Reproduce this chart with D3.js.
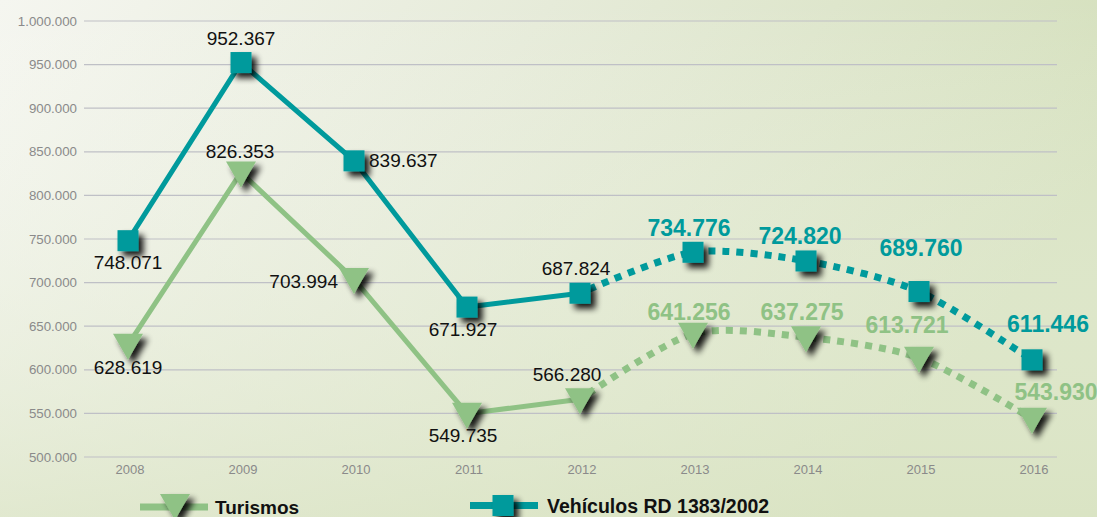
<!DOCTYPE html>
<html>
<head>
<meta charset="utf-8">
<script src="https://cdn.jsdelivr.net/npm/d3@7"></script>
<style>
  body { margin: 0; overflow: hidden; }
  svg { display: block; font-family: "Liberation Sans", Arial, sans-serif; }
</style>
</head>
<body>
<div id="chart"></div>
<script>
// data
var years = ["2008", "2009", "2010", "2011", "2012", "2013", "2014", "2015", "2016"];
var turismos = [628619, 826353, 703994, 549735, 566280, 641256, 637275, 613721, 543930];
var vehiculos = [748071, 952367, 839637, 671927, 687824, 734776, 724820, 689760, 611446];
var yTicks = [500000, 550000, 600000, 650000, 700000, 750000, 800000, 850000, 900000, 950000, 1000000];
var lastReal = 4; // 2012: from here on the line is dotted (forecast)

var W = 1097, H = 517;
var teal = "#009a9c", green = "#8fc285";

var fmt = function(v){ return d3.format(",")(v).replace(/,/g, "."); };

var svg = d3.select("#chart").append("svg")
	.attr("width", W).attr("height", H);

var defs = svg.append("defs");
var bg = defs.append("linearGradient").attr("id", "bg")
	.attr("x1", 0).attr("y1", 0).attr("x2", 1).attr("y2", 0.35);
bg.append("stop").attr("offset", "0%").attr("stop-color", "#f5f6f0");
bg.append("stop").attr("offset", "45%").attr("stop-color", "#e6ebd9");
bg.append("stop").attr("offset", "100%").attr("stop-color", "#d3dfba");
var bg2 = defs.append("linearGradient").attr("id", "bg2")
	.attr("x1", 0).attr("y1", 0).attr("x2", 0).attr("y2", 1);
bg2.append("stop").attr("offset", "0%").attr("stop-color", "#fff").attr("stop-opacity", 0);
bg2.append("stop").attr("offset", "100%").attr("stop-color", "#dde6c8").attr("stop-opacity", 0.7);

var shadow = defs.append("filter").attr("id", "shadow")
	.attr("x", "-50%").attr("y", "-50%").attr("width", "250%").attr("height", "250%");
shadow.append("feGaussianBlur").attr("in", "SourceAlpha").attr("stdDeviation", 3).attr("result", "b");
shadow.append("feOffset").attr("in", "b").attr("dx", 5).attr("dy", 5).attr("result", "o");
shadow.append("feComponentTransfer").attr("in", "o").attr("result", "s")
	.append("feFuncA").attr("type", "linear").attr("slope", 0.9);
var merge = shadow.append("feMerge");
merge.append("feMergeNode").attr("in", "s");
merge.append("feMergeNode").attr("in", "SourceGraphic");

svg.append("rect").attr("width", W).attr("height", H).attr("fill", "url(#bg)");
svg.append("rect").attr("width", W).attr("height", H).attr("fill", "url(#bg2)");

var x = d3.scalePoint().domain(years).range([128, 1032]);
var y = d3.scaleLinear().domain([500000, 1000000]).range([457, 21]);

// grid + y labels
var grid = svg.append("g");
grid.selectAll("line").data(yTicks).enter().append("line")
	.attr("x1", 84).attr("x2", 1057)
	.attr("y1", d => y(d)).attr("y2", d => y(d))
	.attr("stroke", "#bfc0c6").attr("stroke-width", 1.2);
grid.selectAll("text").data(yTicks).enter().append("text")
	.attr("x", 77).attr("y", d => y(d) + 4.5)
	.attr("text-anchor", "end").attr("font-size", 13.3).attr("fill", "#8a8a8a")
	.text(fmt);

svg.append("g").selectAll("text").data(years).enter().append("text")
	.attr("x", d => x(d) + 2).attr("y", 474)
	.attr("text-anchor", "middle").attr("font-size", 13).attr("fill", "#8a8a8a")
	.text(d => d);

function pts(vals){ return vals.map((v, i) => [x(years[i]), y(v)]); }

var straight = d3.line();
var curved = d3.line().curve(d3.curveCardinal.tension(0.2));

function drawSeries(vals, color){
	var p = pts(vals);
	svg.append("path").attr("d", straight(p.slice(0, lastReal + 1)))
		.attr("fill", "none").attr("stroke", color).attr("stroke-width", 5);
	svg.append("path").attr("d", curved(p.slice(lastReal)))
		.attr("fill", "none").attr("stroke", color).attr("stroke-width", 7)
		.attr("stroke-dasharray", "7 7").attr("stroke-dashoffset", -10);
}
drawSeries(turismos, green);
drawSeries(vehiculos, teal);

function triangle(g, cx, cy){
	g.append("path").attr("d", "M" + (cx - 15) + "," + (cy - 11) + "L" + (cx + 15) + "," + (cy - 11) + "L" + cx + "," + (cy + 15) + "Z")
		.attr("fill", green).attr("filter", "url(#shadow)");
}
function square(g, cx, cy){
	g.append("rect").attr("x", cx - 10.5).attr("y", cy - 10.5).attr("width", 21).attr("height", 21)
		.attr("fill", teal).attr("filter", "url(#shadow)");
}

var marks = svg.append("g");
turismos.forEach((v, i) => triangle(marks, x(years[i]), y(v)));
vehiculos.forEach((v, i) => square(marks, x(years[i]), y(v)));

// value labels: [dx, dy of baseline] relative to the mark
var vehOff = [[0, 28], [0, -18], [15, 6], [-4, 29], [-4, -18], [-4, -16], [-6, -17], [2, -36], [16, -28]];
var turOff = [[0, 29], [-1, -14], [-16, 9], [-4, 28], [-13, -18], [-4, -14], [-4, -17], [-12, -25], [24, -19]];

function labels(vals, off, color){
	svg.append("g").selectAll("text").data(vals).enter().append("text")
		.attr("x", (d, i) => x(years[i]) + off[i][0])
		.attr("y", (d, i) => y(d) + off[i][1])
		.attr("text-anchor", (d, i) => i == 2 ? (color == teal ? "start" : "end") : "middle")
		.attr("font-size", (d, i) => i > lastReal ? 23 : 19)
		.attr("font-weight", (d, i) => i > lastReal ? "bold" : "normal")
		.attr("fill", (d, i) => i > lastReal ? color : "#111")
		.text(fmt);
}
labels(vehiculos, vehOff, teal);
labels(turismos, turOff, green);

// legend
var leg = svg.append("g");
leg.append("line").attr("x1", 140).attr("x2", 208).attr("y1", 507).attr("y2", 507)
	.attr("stroke", green).attr("stroke-width", 7);
triangle(leg, 175, 505);
leg.append("text").attr("x", 215).attr("y", 514).attr("font-size", 19).attr("font-weight", "bold")
	.attr("fill", "#111").text("Turismos");
leg.append("line").attr("x1", 470).attr("x2", 538).attr("y1", 505.5).attr("y2", 505.5)
	.attr("stroke", teal).attr("stroke-width", 7);
square(leg, 503, 505.5);
leg.append("text").attr("x", 547).attr("y", 513).attr("font-size", 19.5).attr("font-weight", "bold")
	.attr("fill", "#111").text("Vehículos RD 1383/2002");
</script>
</body>
</html>
